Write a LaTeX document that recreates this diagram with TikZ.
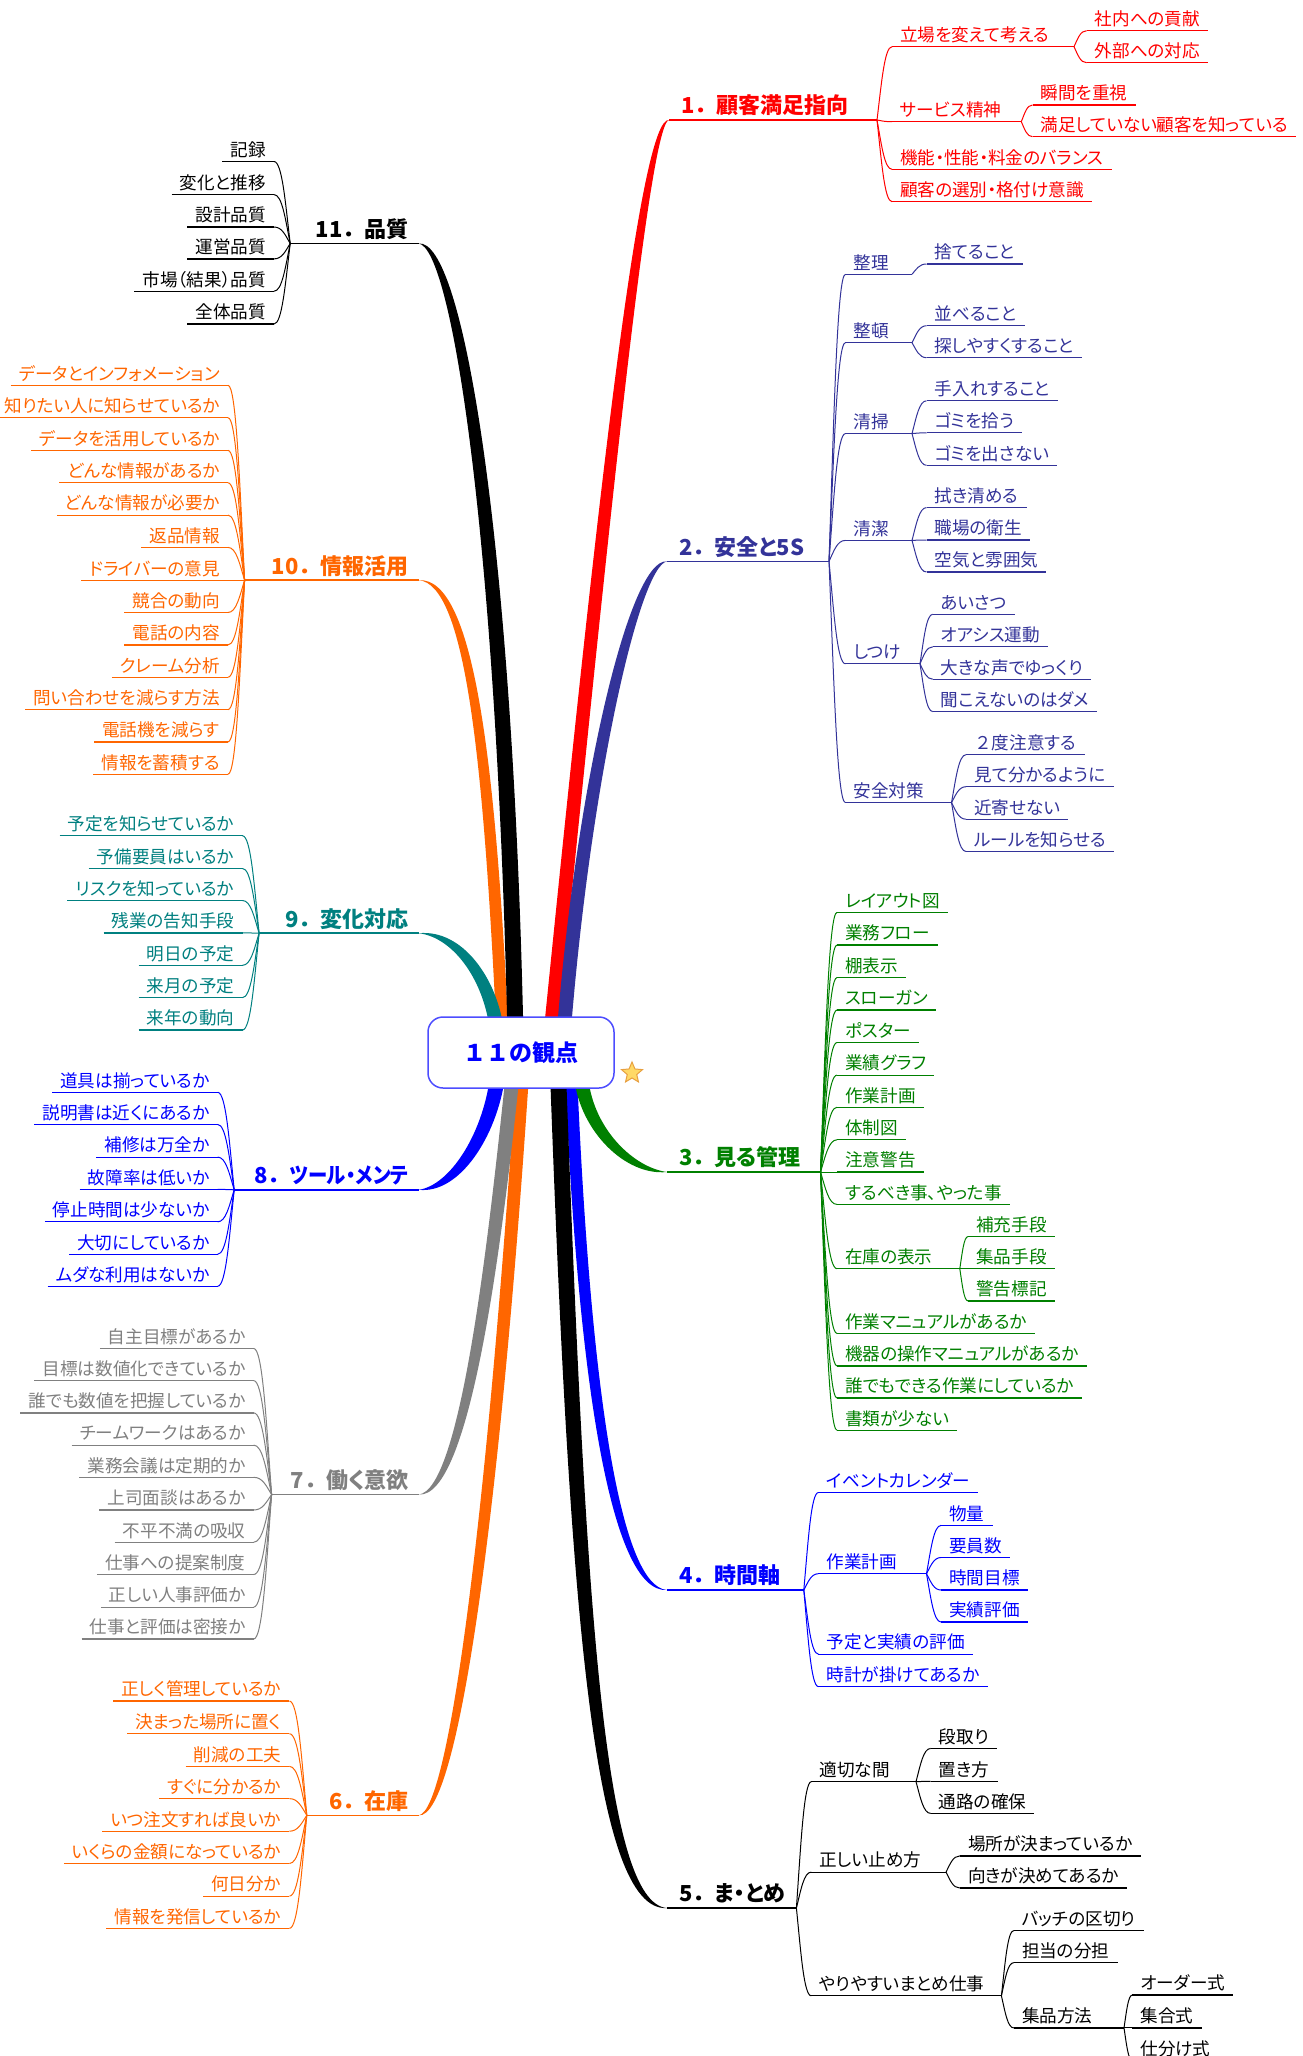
\documentclass[tikz,border=0pt]{standalone}
\usepackage{fontspec}
\setmainfont{Noto Sans CJK JP}[RawFeature=+palt]
\newfontfamily\jpfix{Noto Sans CJK JP}
\newfontfamily\jpnarrow{Noto Sans CJK JP}[RawFeature=+palt, FakeStretch=0.88]
\usetikzlibrary{calc,shapes.geometric}
\pgfdeclarelayer{bg}
\pgfsetlayers{bg,main}
\definecolor{cRed}{HTML}{FF0000}
\definecolor{cNavy}{HTML}{333399}
\definecolor{cGreen}{HTML}{008000}
\definecolor{cBlue}{HTML}{0000FF}
\definecolor{cOrange}{HTML}{FF6600}
\definecolor{cTeal}{HTML}{008080}
\definecolor{cGray}{HTML}{808080}
\definecolor{cBorder}{HTML}{4D4DFF}
\definecolor{starfill}{HTML}{FFD966}
\definecolor{starline}{HTML}{E8A040}
\newcommand\ml[2]{{\jpfix #1．}#2}
\tikzset{
  sub/.style={inner xsep=8pt, inner ysep=0pt, text depth=5pt, font=\fontsize{17.6}{20}\selectfont},
  subR/.style={sub, anchor=south west},
  subL/.style={sub, anchor=south east},
  mainR/.style={anchor=south west, inner xsep=12pt, inner ysep=0pt, text depth=6pt, font=\fontsize{22}{26}\selectfont\bfseries},
  mainL/.style={anchor=south east, inner xsep=10pt, inner ysep=0pt, text depth=6pt, font=\fontsize{22}{26}\selectfont\bfseries},
  ul/.style={line width=1.2pt},
  mul/.style={line width=1.5pt},
  cn/.style={line width=1pt},
  ctrbox/.style={draw=cBorder, line width=1.5pt, fill=white, rounded corners=15pt, minimum width=186pt, minimum height=71pt, text=cBlue, font=\fontsize{23}{26}\selectfont\jpfix\bfseries}
}
\newcommand\conn[3]{%
  \draw[#1,cn] let \p1=(#2), \p2=(#3) in (\p1) .. controls ({\x1+0.3*(\x2-\x1)},{\y1+0.5*(\y2-\y1)}) and ({\x2-0.5*(\x2-\x1)},\y2) .. (\p2);}
\newcommand\leafR[6]{%
  \node[subR,text=#2] (#1) at (#4,#5) {#6};
  \draw[#2,ul] (#1.south west) -- (#1.south east);
  \conn{#2}{#3}{#1.south west}}
\newcommand\leafL[6]{%
  \node[subL,text=#2] (#1) at (#4,#5) {#6};
  \draw[#2,ul] (#1.south west) -- (#1.south east);
  \conn{#2}{#3}{#1.south east}}
\newcommand\parR[8]{%
  \node[subR,text=#2] (#1) at (#4,#5) {#6};
  \coordinate (#7) at (#8,#5);
  \draw[#2,ul] (#1.south west) -- (#7);
  \conn{#2}{#3}{#1.south west}}
% ribbon: color, from, c1 offset, to, c2 offset, width, k
\newcommand\ribbon[7]{%
  \fill[#1] ($(#2)+({#6/2},0)$) .. controls ($(#2)+(#3)+({#6/2},0)$) and ($(#4)+(#5)+({0.35*#6},{-(#7)*0.3*#6})$) .. (#4)
    .. controls ($(#4)+(#5)+({-0.35*#6},{(#7)*0.3*#6})$) and ($(#2)+(#3)+({-#6/2},0)$) .. ($(#2)+({-#6/2},0)$) -- cycle;}
\begin{document}
\begin{tikzpicture}[x=1pt,y=-1pt]
\useasboundingbox (0,0) rectangle (1302,2056);
% centre
\node[ctrbox] (ctr) at (521,1052.5) {１１の観点};
\node[star, star points=5, star point ratio=2.2, minimum size=22pt, inner sep=0pt, fill=starfill, draw=starline, line width=1pt] (star) at (632,1073) {};
\coordinate (t9) at ($(ctr.north west)+(69,10)$);
\coordinate (t10) at ($(ctr.north west)+(75,10)$);
\coordinate (t11) at ($(ctr.north west)+(88,10)$);
\coordinate (t1) at ($(ctr.north west)+(124,10)$);
\coordinate (t2) at ($(ctr.north west)+(137,10)$);
\coordinate (b8) at ($(ctr.south west)+(70,-10)$);
\coordinate (b7) at ($(ctr.south west)+(85,-10)$);
\coordinate (b6) at ($(ctr.south west)+(95,-10)$);
\coordinate (b5) at ($(ctr.south west)+(131,-10)$);
\coordinate (b4) at ($(ctr.south west)+(144,-10)$);
\coordinate (b3) at ($(ctr.south west)+(154,-10)$);

% ---------- 1
\node[mainR,text=cRed] (m1) at (669,120) {\ml{1}{顧客満足指向}};
\coordinate (F1) at (877,120);
\draw[cRed,mul] (m1.south west) -- (F1);
\parR{s1a}{cRed}{F1}{892}{46.7}{立場を変えて考える}{G1a}{1074}
\leafR{s1a1}{cRed}{G1a}{1086.6}{30.7}{社内への貢献}
\leafR{s1a2}{cRed}{G1a}{1086.6}{62.7}{外部への対応}
\parR{s1b}{cRed}{F1}{892}{121.7}{サービス精神}{G1b}{1021.3}
\leafR{s1b1}{cRed}{G1b}{1032.5}{105}{瞬間を重視}
\leafR{s1b2}{cRed}{G1b}{1032.5}{136.7}{満足していない顧客を知っている}
\leafR{s1c}{cRed}{F1}{892}{169.3}{機能・性能・料金のバランス}
\leafR{s1d}{cRed}{F1}{892}{201.7}{顧客の選別・格付け意識}

% ---------- 2
\node[mainR,text=cNavy] (m2) at (667,561.4) {\ml{2}{安全と5S}};
\coordinate (F2) at (829,561.4);
\draw[cNavy,mul] (m2.south west) -- (F2);
\parR{s2a}{cNavy}{F2}{845.4}{274.3}{整理}{G2a}{912}
\leafR{s2a1}{cNavy}{G2a}{926.5}{264}{捨てること}
\parR{s2b}{cNavy}{F2}{845.4}{342.7}{整頓}{G2b}{912}
\leafR{s2b1}{cNavy}{G2b}{926.5}{325.7}{並べること}
\leafR{s2b2}{cNavy}{G2b}{926.5}{357.7}{探しやすくすること}
\parR{s2c}{cNavy}{F2}{845.4}{433.6}{清掃}{G2c}{912}
\leafR{s2c1}{cNavy}{G2c}{926.5}{400.8}{手入れすること}
\leafR{s2c2}{cNavy}{G2c}{926.5}{432.8}{ゴミを拾う}
\leafR{s2c3}{cNavy}{G2c}{926.5}{465.3}{ゴミを出さない}
\parR{s2d}{cNavy}{F2}{845.4}{540.4}{清潔}{G2d}{912}
\leafR{s2d1}{cNavy}{G2d}{926.5}{507.6}{拭き清める}
\leafR{s2d2}{cNavy}{G2d}{926.5}{540}{職場の衛生}
\leafR{s2d3}{cNavy}{G2d}{926.5}{572}{空気と雰囲気}
\parR{s2e}{cNavy}{F2}{845.4}{663.8}{しつけ}{G2e}{920}
\leafR{s2e1}{cNavy}{G2e}{932.7}{614.3}{あいさつ}
\leafR{s2e2}{cNavy}{G2e}{932.7}{646.8}{オアシス運動}
\leafR{s2e3}{cNavy}{G2e}{932.7}{679.2}{大きな声でゆっくり}
\leafR{s2e4}{cNavy}{G2e}{932.7}{711.6}{聞こえないのはダメ}
\parR{s2f}{cNavy}{F2}{845.4}{802.6}{安全対策}{G2f}{951.5}
\leafR{s2f1}{cNavy}{G2f}{966}{754.7}{{\jpfix ２}度注意する}
\leafR{s2f2}{cNavy}{G2f}{966}{786.7}{見て分かるように}
\leafR{s2f3}{cNavy}{G2f}{966}{819.2}{近寄せない}
\leafR{s2f4}{cNavy}{G2f}{966}{851.5}{ルールを知らせる}

% ---------- 3
\node[mainR,text=cGreen] (m3) at (667,1172) {\ml{3}{見る管理}};
\coordinate (F3) at (820.5,1172);
\draw[cGreen,mul] (m3.south west) -- (F3);
\leafR{s3a}{cGreen}{F3}{837}{912.4}{レイアウト図}
\leafR{s3b}{cGreen}{F3}{837}{945}{業務フロー}
\leafR{s3c}{cGreen}{F3}{837}{977.5}{棚表示}
\leafR{s3d}{cGreen}{F3}{837}{1010}{スローガン}
\leafR{s3e}{cGreen}{F3}{837}{1042.5}{ポスター}
\leafR{s3f}{cGreen}{F3}{837}{1075.1}{業績グラフ}
\leafR{s3g}{cGreen}{F3}{837}{1107.2}{作業計画}
\leafR{s3h}{cGreen}{F3}{837}{1139.8}{体制図}
\leafR{s3i}{cGreen}{F3}{837}{1172}{注意警告}
\leafR{s3j}{cGreen}{F3}{837}{1204.4}{するべき事、やった事}
\parR{s3k}{cGreen}{F3}{837}{1268.7}{在庫の表示}{G3k}{959.8}
\leafR{s3k1}{cGreen}{G3k}{968}{1236.6}{補充手段}
\leafR{s3k2}{cGreen}{G3k}{968}{1268.7}{集品手段}
\leafR{s3k3}{cGreen}{G3k}{968}{1300.9}{警告標記}
\leafR{s3l}{cGreen}{F3}{837}{1333.4}{作業マニュアルがあるか}
\leafR{s3m}{cGreen}{F3}{837}{1365.9}{機器の操作マニュアルがあるか}
\leafR{s3n}{cGreen}{F3}{837}{1398}{誰でもできる作業にしているか}
\leafR{s3o}{cGreen}{F3}{837}{1430.2}{書類が少ない}

% ---------- 4
\node[mainR,text=cBlue] (m4) at (667,1590) {\ml{4}{時間軸}};
\coordinate (F4) at (803.8,1590);
\draw[cBlue,mul] (m4.south west) -- (F4);
\leafR{s4a}{cBlue}{F4}{818.4}{1492.5}{イベントカレンダー}
\parR{s4b}{cBlue}{F4}{818.4}{1573.7}{作業計画}{G4b}{926.5}
\leafR{s4b1}{cBlue}{G4b}{941}{1525.4}{物量}
\leafR{s4b2}{cBlue}{G4b}{941}{1557.5}{要員数}
\leafR{s4b3}{cBlue}{G4b}{941}{1590}{時間目標}
\leafR{s4b4}{cBlue}{G4b}{941}{1622}{実績評価}
\leafR{s4c}{cBlue}{F4}{818.4}{1654.1}{予定と実績の評価}
\leafR{s4d}{cBlue}{F4}{818.4}{1686.6}{時計が掛けてあるか}

% ---------- 5
\node[mainR,text=black] (m5) at (667,1908) {\ml{5}{ま・とめ}};
\coordinate (F5) at (796.4,1908);
\draw[black,mul] (m5.south west) -- (F5);
\parR{s5a}{black}{F5}{811.3}{1781.7}{適切な間}{G5a}{916}
\leafR{s5a1}{black}{G5a}{930.7}{1748.4}{段取り}
\leafR{s5a2}{black}{G5a}{930.7}{1781.3}{置き方}
\leafR{s5a3}{black}{G5a}{930.7}{1813.4}{通路の確保}
\parR{s5b}{black}{F5}{811.3}{1872.1}{正しい止め方}{G5b}{946}
\leafR{s5b1}{black}{G5b}{959.8}{1855.9}{場所が決まっているか}
\leafR{s5b2}{black}{G5b}{959.8}{1888}{向きが決めてあるか}
\parR{s5c}{black}{F5}{811.3}{1995.8}{やりやすいまとめ仕事}{G5c}{1001.4}
\leafR{s5c1}{black}{G5c}{1013.8}{1930.5}{バッチの区切り}
\leafR{s5c2}{black}{G5c}{1013.8}{1962.6}{担当の分担}
\parR{s5c3}{black}{G5c}{1013.8}{2027.9}{集品方法}{G5d}{1124}
\leafR{s5d1}{black}{G5d}{1132.3}{1995}{オーダー式}
\leafR{s5d2}{black}{G5d}{1132.3}{2027.9}{集合式}
\leafR{s5d3}{black}{G5d}{1132.3}{2060.4}{仕分け式}

% ---------- 11
\node[mainL,text=black] (m11) at (418.7,243.5) {\ml{11}{品質}};
\coordinate (F11) at (290.2,243.5);
\draw[black,mul] (F11) -- (m11.south east);
\leafL{l11a}{black}{F11}{274}{161.5}{記録}
\leafL{l11b}{black}{F11}{274}{194.6}{変化と推移}
\leafL{l11c}{black}{F11}{274}{227}{設計品質}
\leafL{l11d}{black}{F11}{274}{258.9}{運営品質}
\leafL{l11e}{black}{F11}{274}{291.2}{市場（結果）品質}
\leafL{l11f}{black}{F11}{274}{324}{全体品質}

% ---------- 10
\node[mainL,text=cOrange] (m10) at (418.7,580.2) {\ml{10}{情報活用}};
\coordinate (F10) at (244.6,580.2);
\draw[cOrange,mul] (F10) -- (m10.south east);
\leafL{l10a}{cOrange}{F10}{228}{385.3}{データとインフォメーション}
\leafL{l10b}{cOrange}{F10}{228}{417.7}{知りたい人に知らせているか}
\leafL{l10c}{cOrange}{F10}{228}{450.4}{データを活用しているか}
\leafL{l10d}{cOrange}{F10}{228}{482.8}{どんな情報があるか}
\leafL{l10e}{cOrange}{F10}{228}{515.1}{どんな情報が必要か}
\leafL{l10f}{cOrange}{F10}{228}{547.4}{返品情報}
\leafL{l10g}{cOrange}{F10}{228}{580.2}{ドライバーの意見}
\leafL{l10h}{cOrange}{F10}{228}{612.5}{競合の動向}
\leafL{l10i}{cOrange}{F10}{228}{644.9}{電話の内容}
\leafL{l10j}{cOrange}{F10}{228}{677.2}{クレーム分析}
\leafL{l10k}{cOrange}{F10}{228}{709.6}{問い合わせを減らす方法}
\leafL{l10l}{cOrange}{F10}{228}{741.9}{電話機を減らす}
\leafL{l10m}{cOrange}{F10}{228}{774.2}{情報を蓄積する}

% ---------- 9
\node[mainL,text=cTeal] (m9) at (418.7,933.2) {\ml{9}{変化対応}};
\coordinate (F9) at (259.1,933.2);
\draw[cTeal,mul] (F9) -- (m9.south east);
\leafL{l9a}{cTeal}{F9}{242.5}{835.8}{予定を知らせているか}
\leafL{l9b}{cTeal}{F9}{242.5}{868.5}{予備要員はいるか}
\leafL{l9c}{cTeal}{F9}{242.5}{900.5}{リスクを知っているか}
\leafL{l9d}{cTeal}{F9}{242.5}{932.9}{残業の告知手段}
\leafL{l9e}{cTeal}{F9}{242.5}{965.3}{明日の予定}
\leafL{l9f}{cTeal}{F9}{242.5}{997.6}{来月の予定}
\leafL{l9g}{cTeal}{F9}{242.5}{1030}{来年の動向}

% ---------- 8
\node[mainL,text=cBlue] (m8) at (418.7,1189.8) {{\jpfix 8．}{\jpnarrow ツール・メンテ}};
\coordinate (F8) at (234.2,1189.8);
\draw[cBlue,mul] (F8) -- (m8.south east);
\leafL{l8a}{cBlue}{F8}{217.7}{1092.3}{道具は揃っているか}
\leafL{l8b}{cBlue}{F8}{217.7}{1124.4}{説明書は近くにあるか}
\leafL{l8c}{cBlue}{F8}{217.7}{1157.1}{補修は万全か}
\leafL{l8d}{cBlue}{F8}{217.7}{1189.4}{故障率は低いか}
\leafL{l8e}{cBlue}{F8}{217.7}{1221.8}{停止時間は少ないか}
\leafL{l8f}{cBlue}{F8}{217.7}{1254.2}{大切にしているか}
\leafL{l8g}{cBlue}{F8}{217.7}{1286.2}{ムダな利用はないか}

% ---------- 7
\node[mainL,text=cGray] (m7) at (418.7,1494.5) {\ml{7}{働く意欲}};
\coordinate (F7) at (271.6,1494.5);
\draw[cGray,mul] (F7) -- (m7.south east);
\leafL{l7a}{cGray}{F7}{253.7}{1348.4}{自主目標があるか}
\leafL{l7b}{cGray}{F7}{253.7}{1380.6}{目標は数値化できているか}
\leafL{l7c}{cGray}{F7}{253.7}{1412.9}{誰でも数値を把握しているか}
\leafL{l7d}{cGray}{F7}{253.7}{1445.1}{チームワークはあるか}
\leafL{l7e}{cGray}{F7}{253.7}{1477.3}{業務会議は定期的か}
\leafL{l7f}{cGray}{F7}{253.7}{1510}{上司面談はあるか}
\leafL{l7g}{cGray}{F7}{253.7}{1542.2}{不平不満の吸収}
\leafL{l7h}{cGray}{F7}{253.7}{1574.5}{仕事への提案制度}
\leafL{l7i}{cGray}{F7}{253.7}{1607.1}{正しい人事評価か}
\leafL{l7j}{cGray}{F7}{253.7}{1639}{仕事と評価は密接か}

% ---------- 6
\node[mainL,text=cOrange] (m6) at (418.7,1815.3) {\ml{6}{在庫}};
\coordinate (F6) at (306.8,1815.3);
\draw[cOrange,mul] (F6) -- (m6.south east);
\leafL{l6a}{cOrange}{F6}{289.4}{1701}{正しく管理しているか}
\leafL{l6b}{cOrange}{F6}{289.4}{1733.7}{決まった場所に置く}
\leafL{l6c}{cOrange}{F6}{289.4}{1766.3}{削減の工夫}
\leafL{l6d}{cOrange}{F6}{289.4}{1798.6}{すぐに分かるか}
\leafL{l6e}{cOrange}{F6}{289.4}{1831.2}{いつ注文すれば良いか}
\leafL{l6f}{cOrange}{F6}{289.4}{1863.5}{いくらの金額になっているか}
\leafL{l6g}{cOrange}{F6}{289.4}{1896.1}{何日分か}
\leafL{l6h}{cOrange}{F6}{289.4}{1928.4}{情報を発信しているか}

% ---------- ribbons
\begin{pgfonlayer}{bg}
\fill[white] (0,0) rectangle (1302,2056);
\ribbon{cBlue}{b4}{13,302}{m4.south west}{-52,0}{12}{1}
\ribbon{cGreen}{b3}{6,52}{m3.south west}{-37,0}{14}{1}
\ribbon{black}{b5}{19,522}{m5.south west}{-69,0}{16}{1}
\ribbon{cRed}{t1}{53,-527}{m1.south west}{-24,0}{14}{-1}
\ribbon{cNavy}{t2}{20,-247}{m2.south west}{-32,0}{14}{-1}
\ribbon{cOrange}{b6}{-28,422}{m6.south east}{36,0}{13}{-1}
\ribbon{cGray}{b7}{-18,172}{m7.south east}{46,0}{14}{-1}
\ribbon{cBlue}{b8}{-8,57}{m8.south east}{36,0}{15}{-1}
\ribbon{cOrange}{t10}{-13,-267}{m10.south east}{51,0}{12}{1}
\ribbon{cTeal}{t9}{-7,-48}{m9.south east}{39,0}{14}{1}
\ribbon{black}{t11}{-11,-487}{m11.south east}{39,0}{16}{1}
\end{pgfonlayer}
\end{tikzpicture}
\end{document}
